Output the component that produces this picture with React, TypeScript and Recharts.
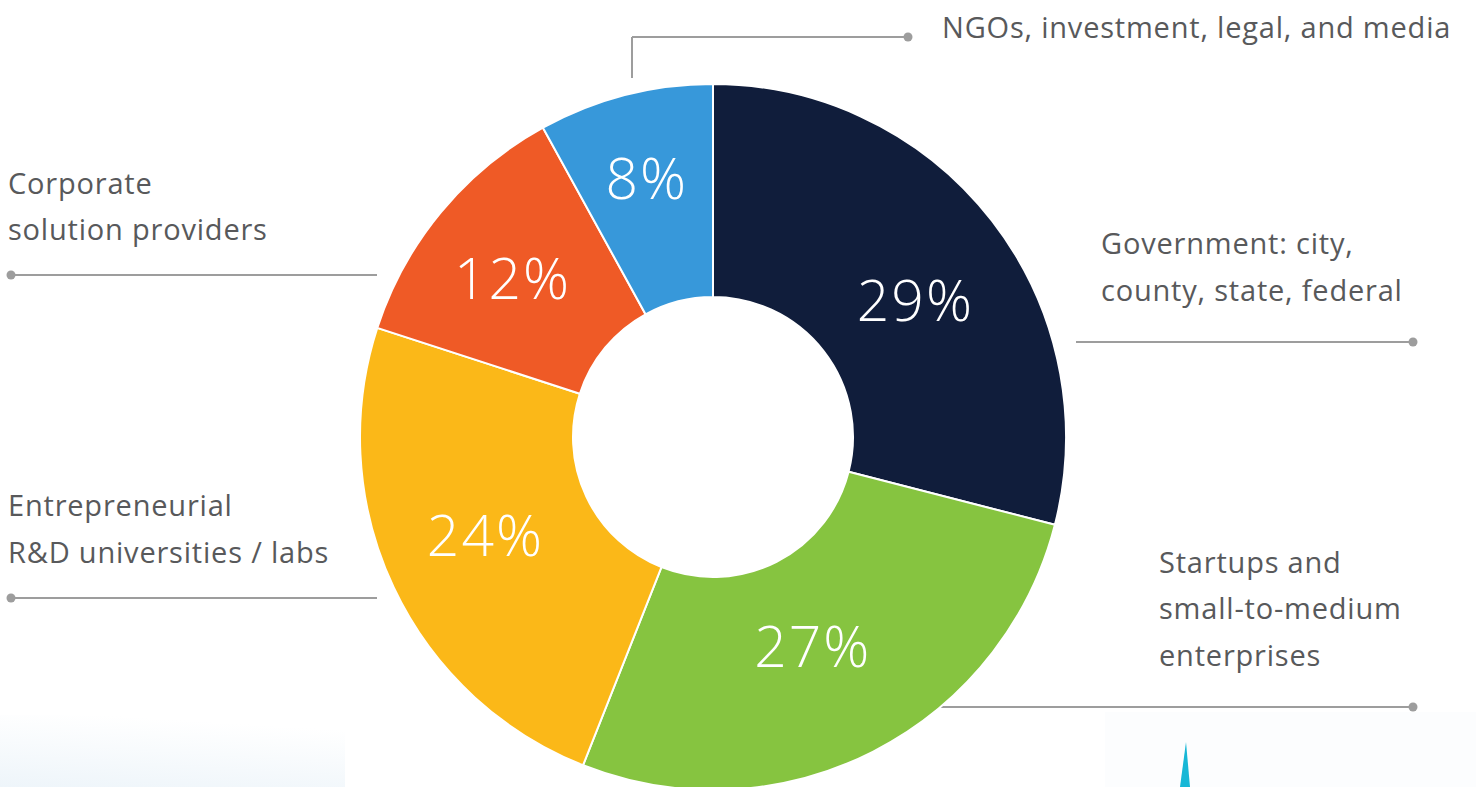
import React from "react";
import { PieChart, Pie, Cell, Customized } from "recharts";

const categories = [
  "Government: city, county, state, federal",
  "Startups and small-to-medium enterprises",
  "Entrepreneurial R&D universities / labs",
  "Corporate solution providers",
  "NGOs, investment, legal, and media",
];
const shares = [29, 27, 24, 12, 8];
const colors = ["#101d3b", "#86c440", "#fbb818", "#ef5a26", "#3798da"];

const data = categories.map((name, i) => ({ name, value: shares[i] }));

const RAD = Math.PI / 180;
const LABEL_R = 246;
const LABEL_NUDGE = [
  [8, 13],
  [-12, -11],
  [-5, -8],
  [-11, -3],
  [-5, -22],
];

const TEXT_COLOR = "#58595b";
const LINE_COLOR = "#9d9d9d";
const FONT = "'Open Sans', sans-serif";

const renderPct = (props: any) => {
  const { cx, cy, midAngle, index, value } = props;
  const x = cx + LABEL_R * Math.cos(-midAngle * RAD) + LABEL_NUDGE[index][0];
  const y = cy + LABEL_R * Math.sin(-midAngle * RAD) + LABEL_NUDGE[index][1];
  return (
    <text
      x={x}
      y={y}
      fill="#ffffff"
      fontSize={57}
      letterSpacing={2}
      fontFamily={FONT}
      fontWeight={300}
      textAnchor="middle"
      dominantBaseline="central"
    >
      {value}%
    </text>
  );
};

const Annotations = () => {
  const t = (x: number, y: number, s: string) => (
    <text x={x} y={y} fill={TEXT_COLOR} fontSize={29} letterSpacing={0.8} fontFamily={FONT}>
      {s}
    </text>
  );
  const dot = (x: number, y: number) => <circle cx={x} cy={y} r={4.5} fill={LINE_COLOR} />;
  const ln = (x1: number, y1: number, x2: number, y2: number) => (
    <line x1={x1} y1={y1} x2={x2} y2={y2} stroke={LINE_COLOR} strokeWidth={2} />
  );
  return (
    <g>
      <defs>
        <linearGradient id="fadeL" x1="0" y1="1" x2="0.3" y2="0">
          <stop offset="0" stopColor="#eef5fa" />
          <stop offset="1" stopColor="#ffffff" />
        </linearGradient>
      </defs>
      <rect x={0} y={715} width={345} height={72} fill="url(#fadeL)" />
      <rect x={1105} y={712} width={371} height={75} fill="#fcfdfe" />
      <polygon points="1180,787 1190,787 1186,742" fill="#17b7d6" />

      {ln(632, 78, 632, 37)}
      {ln(632, 37, 908, 37)}
      {dot(908, 37)}
      {t(942, 38, categories[4])}

      {t(8, 194, "Corporate")}
      {t(8, 240, "solution providers")}
      {ln(11, 275, 377, 275)}
      {dot(11, 275)}

      {t(1101, 254, "Government: city,")}
      {t(1101, 301, "county, state, federal")}
      {ln(1076, 342, 1413, 342)}
      {dot(1413, 342)}

      {t(8, 516, "Entrepreneurial")}
      {t(8, 563, "R&D universities / labs")}
      {ln(11, 598, 377, 598)}
      {dot(11, 598)}

      {t(1159, 573, "Startups and")}
      {t(1159, 619, "small-to-medium")}
      {t(1159, 666, "enterprises")}
      {ln(940, 707, 1413, 707)}
      {dot(1413, 707)}
    </g>
  );
};

export default function App() {
  return (
    <div style={{ position: "absolute", left: 0, top: 0, width: 1476, height: 787, background: "#ffffff" }}>
      <PieChart width={1476} height={787} margin={{ top: 0, right: 0, bottom: 0, left: 0 }}>
        <Customized component={Annotations} />
        <Pie
          data={data}
          dataKey="value"
          nameKey="name"
          cx={713}
          cy={437}
          innerRadius={140}
          outerRadius={353}
          startAngle={90}
          endAngle={-270}
          stroke="#ffffff"
          strokeWidth={2}
          label={renderPct}
          labelLine={false}
          isAnimationActive={false}
        >
          {data.map((d, i) => (
            <Cell key={d.name} fill={colors[i]} />
          ))}
        </Pie>
      </PieChart>
    </div>
  );
}
